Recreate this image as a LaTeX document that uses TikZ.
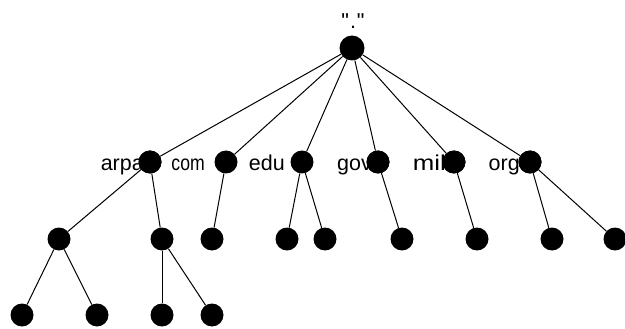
\documentclass[tikz,border=0pt]{standalone}
\usepackage{fontspec}
\setmainfont{Liberation Sans}
\begin{document}
\begin{tikzpicture}[x=1pt,y=-1pt,
  dot/.style={circle,fill=black,inner sep=0pt,minimum size=23pt},
  bigdot/.style={circle,fill=black,inner sep=0pt,minimum size=25pt},
  lbl/.style={anchor=base east,inner sep=0pt,font=\fontsize{21.5}{21.5}\selectfont},
  edge/.style={line width=1pt}]
\useasboundingbox (0,0) rectangle (625,329);
% nodes
\node[bigdot] (root) at (352,48) {};
\node[anchor=base,inner sep=0pt,font=\fontsize{21.5}{21.5}\selectfont] (rootlbl) at (353,29) {\textquotedbl\hspace{1pt}.\hspace{1pt}\textquotedbl};
\node[dot] (arpa) at (150,162) {};
\node[dot] (com) at (226,162) {};
\node[dot] (edu) at (302,162) {};
\node[dot] (gov) at (378,162) {};
\node[dot] (mil) at (454,162) {};
\node[dot] (org) at (530,162) {};
\node[dot] (a1) at (59,239) {};
\node[dot] (a2) at (162,239) {};
\node[dot] (c1) at (212,239) {};
\node[dot] (e1) at (287,239) {};
\node[dot] (e2) at (325,239) {};
\node[dot] (g1) at (402,239) {};
\node[dot] (m1) at (477,239) {};
\node[dot] (o1) at (552,239) {};
\node[dot] (o2) at (615,239) {};
\node[dot] (a11) at (22,315) {};
\node[dot] (a12) at (97,315) {};
\node[dot] (a21) at (162,315) {};
\node[dot] (a22) at (212,315) {};
% labels
\node[lbl] (larpa) at (144,171) {arpa};
\node[lbl] (lcom) at (205,171) {\scalebox{0.82}[1]{com}};
\node[lbl] (ledu) at (285,171) {edu};
\node[lbl] (lgov) at (372,171) {gov};
\node[lbl] (lmil) at (446,171) {\scalebox{1.2}[1]{mil}};
\node[lbl] (lorg) at (520,171) {org};
% redraw dots on top of labels
\foreach \x in {150,378,454,530}
  \fill (\x,162) circle (11.5pt);
% edges
\foreach \c in {arpa,com,edu,gov,mil,org}
  \draw[edge] (root) -- (\c);
\draw[edge] (arpa) -- (a1);
\draw[edge] (arpa) -- (a2);
\draw[edge] (com) -- (c1);
\draw[edge] (edu) -- (e1);
\draw[edge] (edu) -- (e2);
\draw[edge] (gov) -- (g1);
\draw[edge] (mil) -- (m1);
\draw[edge] (org) -- (o1);
\draw[edge] (org) -- (o2);
\draw[edge] (a1) -- (a11);
\draw[edge] (a1) -- (a12);
\draw[edge] (a2) -- (a21);
\draw[edge] (a2) -- (a22);
\end{tikzpicture}
\end{document}
